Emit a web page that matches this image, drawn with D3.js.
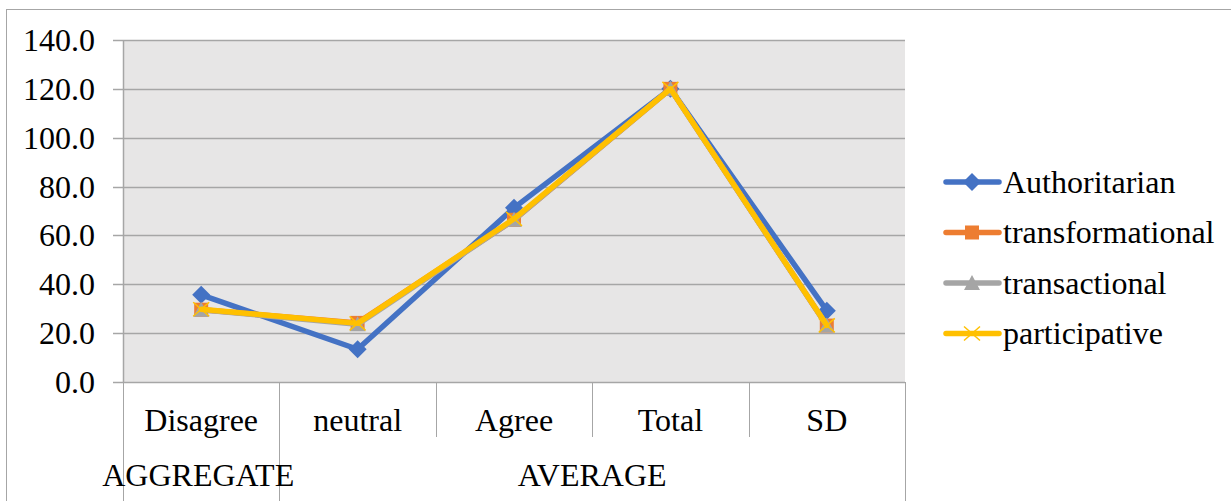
<!DOCTYPE html>
<html><head><meta charset="utf-8">
<script src="https://cdn.jsdelivr.net/npm/d3@7"></script>
<style>body{margin:0;background:#fff}svg{display:block}</style>
</head><body>
<svg id="c" width="1231" height="501"></svg>
<script>
const categories = ["Disagree","neutral","Agree","Total","SD"];
const groups = [{name:"AGGREGATE", from:0, to:0},{name:"AVERAGE", from:1, to:4}];
const yTicks = [0,20,40,60,80,100,120,140];
const seriesNames = ["Authoritarian","transformational","transactional","participative"];
const authoritarian = [35.7, 13.4, 71.3, 120.0, 29.2];
const transformational = [29.6, 24.2, 66.4, 120.0, 23.1];
const transactional = [29.6, 23.6, 66.4, 120.0, 23.1];
const participative = [29.8, 24.0, 66.8, 120.0, 23.2];
const values = [authoritarian, transformational, transactional, participative];
const colors = ["#4472C4","#ED7D31","#A5A5A5","#FFC000"];
const markers = ["diamond","square","triangle","x"];
const FONT = '"Liberation Serif", "Times New Roman", serif';
const FS = 32;

const svg = d3.select("#c");
const L=123, R=905, T=40, B=382;
svg.append("rect").attr("x",6.5).attr("y",9.5).attr("width",1240).attr("height",520).attr("fill","#fff").attr("stroke","#A6A6A6").attr("stroke-width",1);
svg.append("rect").attr("x",L).attr("y",T).attr("width",R-L).attr("height",B-T).attr("fill","#E7E6E6");

const x = d3.scaleBand().domain(categories).range([L,R]);
const y = d3.scaleLinear().domain([0,140]).range([B,T]);

svg.append("g").selectAll("line").data(yTicks).join("line")
  .attr("x1",L-10).attr("x2",R).attr("y1",d=>Math.round(y(d))+0.5).attr("y2",d=>Math.round(y(d))+0.5)
  .attr("stroke","#A6A6A6").attr("stroke-width",1.5);
svg.append("line").attr("x1",L+0.5).attr("x2",L+0.5).attr("y1",T).attr("y2",B).attr("stroke","#A6A6A6").attr("stroke-width",1.5);
svg.append("g").selectAll("text").data(yTicks).join("text")
  .style("font-family",FONT).style("font-size",FS+"px")
  .attr("x",95).attr("y",d=>y(d)+11).attr("text-anchor","end").text(d=>d.toFixed(1));

const bounds = categories.map(c=>x(c)).concat([R]);
svg.append("g").selectAll("line").data(bounds).join("line")
  .attr("x1",d=>Math.round(d)+0.5).attr("x2",d=>Math.round(d)+0.5).attr("y1",B)
  .attr("y2",(d,i)=> (i===0||i===1||i===bounds.length-1)?501:437)
  .attr("stroke","#A6A6A6").attr("stroke-width",1);
svg.append("g").selectAll("text").data(categories).join("text")
  .style("font-family",FONT).style("font-size",FS+"px")
  .attr("x",d=>x(d)+x.bandwidth()/2).attr("y",431).attr("text-anchor","middle").text(d=>d);
svg.append("g").selectAll("text").data(groups).join("text")
  .style("font-family",FONT).style("font-size",FS+"px")
  .attr("x",g=> (x(categories[g.from]) + x(categories[g.to])+x.bandwidth())/2 - (g.name==="AGGREGATE"?3:0))
  .attr("y",486).attr("text-anchor","middle").text(g=>g.name);

function marker(g, type, color, cx, cy){
  if(type==="diamond") g.append("path").attr("d",`M${cx},${cy-9}L${cx+9},${cy}L${cx},${cy+9}L${cx-9},${cy}Z`).attr("fill",color);
  else if(type==="square") g.append("rect").attr("x",cx-7).attr("y",cy-7).attr("width",14).attr("height",14).attr("fill",color);
  else if(type==="triangle") g.append("path").attr("d",`M${cx},${cy-8}L${cx+8},${cy+7}L${cx-8},${cy+7}Z`).attr("fill",color);
  else { g.append("path").attr("d",`M${cx-8},${cy-7}L${cx+8},${cy+7}M${cx-8},${cy+7}L${cx+8},${cy-7}`).attr("stroke",color).attr("stroke-width",1.5); }
}

const line = d3.line().x((d,i)=>x(categories[i])+x.bandwidth()/2).y(d=>y(d));
values.forEach((vals,si)=>{
  const g = svg.append("g");
  g.append("path").attr("d",line(vals)).attr("fill","none").attr("stroke",colors[si]).attr("stroke-width",5.5).attr("stroke-linejoin","round").attr("stroke-linecap","round");
  vals.forEach((v,i)=>marker(g, markers[si], colors[si], x(categories[i])+x.bandwidth()/2, y(v)));
});

const lg = svg.append("g");
seriesNames.forEach((n,i)=>{
  const ly = 182 + i*50.5;
  lg.append("line").attr("x1",946).attr("x2",999).attr("y1",ly).attr("y2",ly).attr("stroke",colors[i]).attr("stroke-width",5.5).attr("stroke-linecap","round");
  marker(lg, markers[i], colors[i], 972, ly);
  lg.append("text").style("font-family",FONT).style("font-size",FS+"px").attr("x",1003).attr("y",ly+10.5).text(n);
});
</script>
</body></html>
